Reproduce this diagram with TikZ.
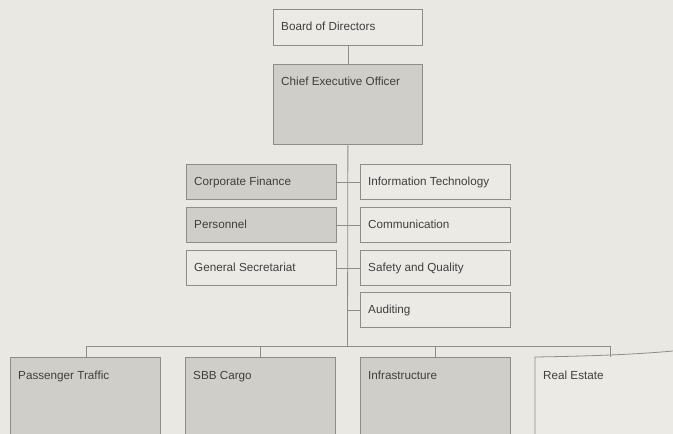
\documentclass[tikz,border=0pt]{standalone}
\usepackage{fontspec}
\setmainfont{Liberation Sans}
\definecolor{bg}{HTML}{E9E8E2}
\definecolor{boxfill}{HTML}{CFCEC8}
\definecolor{lightfill}{HTML}{EBEAE5}
\definecolor{edge}{HTML}{8E8E89}
\definecolor{txt}{HTML}{403F3D}
\begin{document}
\begin{tikzpicture}[x=1pt,y=-1pt,
  box/.style={draw=edge,line width=0.8pt,rectangle,anchor=north west,inner sep=0pt,minimum width=150pt},
  dark/.style={box,fill=boxfill},
  light/.style={box,fill=lightfill},
  lbl/.style={anchor=base west,inner sep=0pt,text=txt,font=\fontsize{11.7}{13}\selectfont},
  conn/.style={draw=edge,line width=0.8pt}]
\clip (0,0) rectangle (673,434);
\fill[bg] (0,0) rectangle (673,434);
% top
\node[light,minimum width=149pt,minimum height=36pt] (board) at (273,9) {};
\node[dark,minimum width=149pt,minimum height=80pt] (ceo) at (273,64) {};
% staff left
\node[dark,minimum height=35pt] (cf) at (186,164) {};
\node[dark,minimum height=35pt] (pers) at (186,207) {};
\node[light,minimum height=35pt] (gs) at (186,250) {};
% staff right
\node[light,minimum height=35pt] (it) at (360,164) {};
\node[light,minimum height=35pt] (comm) at (360,207) {};
\node[light,minimum height=35pt] (saf) at (360,250) {};
\node[light,minimum height=35pt] (aud) at (360,292) {};
% divisions
\node[dark,minimum height=100pt] (pt) at (10,357) {};
\node[dark,minimum height=100pt] (cargo) at (185,357) {};
\node[dark,minimum height=100pt] (infra) at (360,357) {};
\fill[lightfill] (535,357) .. controls (600,356) and (640,354) .. (673,351) -- (673,440) -- (535,440) -- cycle;
\draw[conn] (535,440) -- (535,357) .. controls (600,356) and (640,354) .. (673,351);
\coordinate (re) at (535,357);
% labels
\node[lbl] (tboard) at ([shift={(8,21)}]board.north west) {Board of Directors};
\node[lbl] (tceo) at ([shift={(8,21)}]ceo.north west) {Chief Executive Officer};
\node[lbl] (tcf) at ([shift={(8,21)}]cf.north west) {Corporate Finance};
\node[lbl] (tpers) at ([shift={(8,21)}]pers.north west) {Personnel};
\node[lbl] (tgs) at ([shift={(8,21)}]gs.north west) {General Secretariat};
\node[lbl] (tit) at ([shift={(8,21)}]it.north west) {Information Technology};
\node[lbl] (tcomm) at ([shift={(8,21)}]comm.north west) {Communication};
\node[lbl] (tsaf) at ([shift={(8,21)}]saf.north west) {Safety and Quality};
\node[lbl] (taud) at ([shift={(8,21)}]aud.north west) {Auditing};
\node[lbl] (tpt) at ([shift={(8,22)}]pt.north west) {Passenger Traffic};
\node[lbl] (tcargo) at ([shift={(8,22)}]cargo.north west) {SBB Cargo};
\node[lbl] (tinfra) at ([shift={(8,22)}]infra.north west) {Infrastructure};
\node[lbl] (tre) at ([shift={(8,22)}]re) {Real Estate};
% connectors
\coordinate (bus) at (347.5,346);
\draw[conn] (board.south) -- (ceo.north);
\draw[conn] (ceo.south) -- (bus);
\draw[conn] (cf.east) -- (it.west);
\draw[conn] (pers.east) -- (comm.west);
\draw[conn] (gs.east) -- (saf.west);
\draw[conn] (aud.west) -- (aud.west -| ceo.south);
\coordinate (b1) at (86,346);
\coordinate (b4) at (610,346);
\draw[conn] (b1) -- (b4);
\draw[conn] (b1) -- (b1 |- pt.north);
\draw[conn] (cargo.north |- b1) -- (cargo.north);
\draw[conn] (infra.north |- b1) -- (infra.north);
\draw[conn] (b4) -- (b4 |- re);
\end{tikzpicture}
\end{document}
